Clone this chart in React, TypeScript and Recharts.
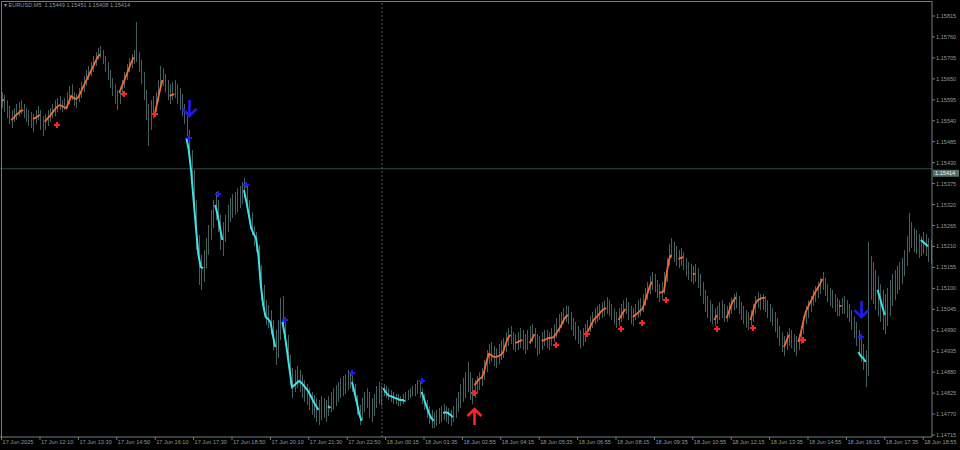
import React from 'react';
import { ComposedChart, Bar, Line, XAxis, YAxis, ReferenceLine } from 'recharts';

// ---- values ----
const symbolTitle = 'EURUSD,M5  1.15449 1.15451 1.15408 1.15414';
const lastPrice = 1.15414;

const highs = [
  1.15615,1.15608,1.15594,1.15579,1.15568,1.15573,1.15584,1.15589,1.15594,1.15584,
  1.15573,1.15568,1.15563,1.15558,1.15568,1.15579,1.15568,1.15552,1.15558,1.15568,
  1.15573,1.15584,1.15594,1.15600,1.15605,1.15594,1.15600,1.15615,1.15631,1.15636,
  1.15615,1.15610,1.15626,1.15642,1.15657,1.15673,1.15684,1.15694,1.15710,1.15720,
  1.15731,1.15736,1.15726,1.15710,1.15694,1.15673,1.15652,1.15636,1.15621,1.15626,
  1.15647,1.15668,1.15689,1.15705,1.15715,1.15726,1.15799,1.15720,1.15700,1.15668,
  1.15621,1.15584,1.15594,1.15605,1.15615,1.15647,1.15684,1.15678,1.15663,1.15647,
  1.15636,1.15642,1.15647,1.15636,1.15626,1.15610,1.15584,1.15563,1.15516,1.15463,
  1.15411,1.15332,1.15240,1.15188,1.15201,1.15232,1.15266,1.15306,1.15332,1.15353,
  1.15332,1.15293,1.15274,1.15293,1.15319,1.15337,1.15348,1.15353,1.15363,1.15369,
  1.15379,1.15390,1.15369,1.15332,1.15300,1.15264,1.15248,1.15214,1.15161,1.15109,
  1.15069,1.15056,1.15043,1.15017,1.14991,1.15017,1.15075,1.15080,1.15022,1.14978,
  1.14925,1.14891,1.14886,1.14896,1.14886,1.14873,1.14859,1.14849,1.14838,1.14828,
  1.14820,1.14812,1.14807,1.14817,1.14812,1.14807,1.14817,1.14828,1.14838,1.14846,
  1.14854,1.14865,1.14870,1.14875,1.14886,1.14880,1.14875,1.14849,1.14820,1.14794,
  1.14812,1.14828,1.14838,1.14828,1.14812,1.14823,1.14844,1.14854,1.14844,1.14849,
  1.14844,1.14838,1.14833,1.14828,1.14823,1.14823,1.14817,1.14823,1.14828,1.14833,
  1.14838,1.14844,1.14849,1.14859,1.14854,1.14838,1.14823,1.14807,1.14791,1.14781,
  1.14775,1.14781,1.14786,1.14791,1.14796,1.14791,1.14786,1.14781,1.14791,1.14812,
  1.14828,1.14849,1.14865,1.14880,1.14907,1.14880,1.14865,1.14859,1.14870,1.14880,
  1.14891,1.14912,1.14938,1.14954,1.14959,1.14949,1.14943,1.14954,1.14964,1.14970,
  1.14985,1.14996,1.15001,1.14985,1.14980,1.14985,1.14996,1.14991,1.14980,1.14991,
  1.15001,1.15006,1.14996,1.14980,1.14975,1.14985,1.14991,1.14991,1.14985,1.14996,
  1.15006,1.15022,1.15033,1.15038,1.15048,1.15054,1.15054,1.15038,1.15022,1.15012,
  1.15001,1.14991,1.14996,1.15006,1.15017,1.15027,1.15038,1.15048,1.15054,1.15059,
  1.15064,1.15069,1.15077,1.15069,1.15059,1.15048,1.15038,1.15048,1.15059,1.15069,
  1.15075,1.15064,1.15054,1.15048,1.15059,1.15069,1.15075,1.15085,1.15101,1.15117,
  1.15132,1.15143,1.15138,1.15122,1.15111,1.15117,1.15143,1.15180,1.15216,1.15232,
  1.15222,1.15211,1.15201,1.15206,1.15195,1.15180,1.15169,1.15164,1.15159,1.15164,
  1.15153,1.15138,1.15117,1.15096,1.15080,1.15069,1.15059,1.15048,1.15054,1.15064,
  1.15069,1.15059,1.15054,1.15064,1.15075,1.15085,1.15090,1.15080,1.15064,1.15054,
  1.15043,1.15038,1.15043,1.15059,1.15080,1.15090,1.15085,1.15085,1.15080,1.15069,
  1.15059,1.15048,1.15038,1.15022,1.15001,1.14985,1.14975,1.14985,1.14996,1.14991,
  1.14980,1.14975,1.14980,1.15001,1.15027,1.15054,1.15069,1.15080,1.15096,1.15106,
  1.15117,1.15127,1.15143,1.15127,1.15111,1.15101,1.15096,1.15085,1.15075,1.15069,
  1.15075,1.15080,1.15069,1.15059,1.15043,1.15027,1.15012,1.14991,1.14970,1.14954,
  1.14938,1.15222,1.15185,1.15169,1.15148,1.15132,1.15111,1.15096,1.15085,1.15101,
  1.15122,1.15138,1.15148,1.15159,1.15169,1.15180,1.15201,1.15237,1.15298,1.15274,
  1.15258,1.15253,1.15243,1.15237,1.15248,1.15243,1.15232,1.15227,
];

const lows = [
  1.15573,1.15563,1.15547,1.15531,1.15521,1.15537,1.15542,1.15552,1.15558,1.15547,
  1.15537,1.15526,1.15521,1.15510,1.15531,1.15542,1.15516,1.15500,1.15516,1.15526,
  1.15537,1.15547,1.15552,1.15563,1.15568,1.15563,1.15568,1.15573,1.15584,1.15594,
  1.15579,1.15573,1.15589,1.15600,1.15615,1.15631,1.15647,1.15657,1.15668,1.15684,
  1.15700,1.15705,1.15689,1.15668,1.15647,1.15626,1.15605,1.15584,1.15568,1.15584,
  1.15605,1.15626,1.15647,1.15668,1.15678,1.15689,1.15694,1.15668,1.15636,1.15594,
  1.15542,1.15474,1.15516,1.15547,1.15563,1.15589,1.15621,1.15631,1.15615,1.15594,
  1.15584,1.15594,1.15600,1.15584,1.15568,1.15552,1.15531,1.15500,1.15437,1.15371,
  1.15306,1.15201,1.15109,1.15096,1.15117,1.15153,1.15188,1.15227,1.15258,1.15279,
  1.15248,1.15201,1.15185,1.15222,1.15248,1.15274,1.15285,1.15293,1.15300,1.15311,
  1.15321,1.15337,1.15306,1.15274,1.15240,1.15211,1.15195,1.15135,1.15069,1.15030,
  1.15004,1.14996,1.14978,1.14938,1.14899,1.14917,1.14964,1.14991,1.14951,1.14899,
  1.14846,1.14812,1.14828,1.14838,1.14828,1.14812,1.14802,1.14794,1.14781,1.14768,
  1.14760,1.14749,1.14741,1.14754,1.14760,1.14749,1.14765,1.14775,1.14781,1.14791,
  1.14802,1.14812,1.14817,1.14823,1.14833,1.14838,1.14828,1.14802,1.14768,1.14741,
  1.14754,1.14775,1.14786,1.14760,1.14749,1.14765,1.14786,1.14796,1.14791,1.14817,
  1.14812,1.14807,1.14802,1.14796,1.14796,1.14791,1.14791,1.14796,1.14802,1.14807,
  1.14812,1.14817,1.14817,1.14823,1.14812,1.14796,1.14781,1.14760,1.14744,1.14733,
  1.14733,1.14739,1.14744,1.14749,1.14754,1.14749,1.14744,1.14739,1.14749,1.14760,
  1.14775,1.14786,1.14802,1.14812,1.14828,1.14807,1.14796,1.14812,1.14823,1.14833,
  1.14844,1.14859,1.14880,1.14901,1.14907,1.14896,1.14891,1.14901,1.14912,1.14917,
  1.14933,1.14949,1.14954,1.14938,1.14933,1.14938,1.14943,1.14938,1.14928,1.14938,
  1.14954,1.14959,1.14943,1.14922,1.14928,1.14938,1.14949,1.14943,1.14938,1.14949,
  1.14959,1.14970,1.14985,1.14996,1.15006,1.15012,1.15006,1.14991,1.14975,1.14964,
  1.14954,1.14943,1.14949,1.14959,1.14975,1.14985,1.14996,1.15006,1.15012,1.15017,
  1.15022,1.15027,1.15033,1.15027,1.15017,1.15006,1.14996,1.15001,1.15012,1.15022,
  1.15033,1.15017,1.15006,1.15001,1.15017,1.15022,1.15027,1.15038,1.15054,1.15069,
  1.15085,1.15096,1.15090,1.15075,1.15064,1.15069,1.15085,1.15117,1.15159,1.15180,
  1.15169,1.15159,1.15153,1.15159,1.15148,1.15132,1.15122,1.15117,1.15111,1.15117,
  1.15101,1.15080,1.15059,1.15038,1.15022,1.15012,1.15006,1.15001,1.15006,1.15017,
  1.15022,1.15012,1.15012,1.15022,1.15033,1.15043,1.15048,1.15033,1.15017,1.15006,
  1.14996,1.14991,1.15001,1.15012,1.15033,1.15048,1.15043,1.15043,1.15038,1.15022,
  1.15012,1.15001,1.14985,1.14970,1.14949,1.14933,1.14922,1.14938,1.14949,1.14943,
  1.14933,1.14922,1.14938,1.14954,1.14980,1.15006,1.15022,1.15038,1.15054,1.15064,
  1.15075,1.15085,1.15096,1.15080,1.15064,1.15054,1.15048,1.15038,1.15027,1.15027,
  1.15033,1.15033,1.15022,1.15012,1.14991,1.14970,1.14949,1.14922,1.14907,1.14886,
  1.14841,1.14870,1.15069,1.15059,1.15043,1.15027,1.15012,1.14991,1.14980,1.15001,
  1.15027,1.15054,1.15069,1.15085,1.15096,1.15111,1.15132,1.15159,1.15195,1.15206,
  1.15195,1.15190,1.15180,1.15185,1.15190,1.15185,1.15169,1.15164,
];

// orange (rising) indicator segments: [first bar index, values]
const upSegments: [number, number[]][] = [
  [0, [1.15594, 1.15594]],
  [4, [1.15542, 1.15547, 1.15555, 1.15560, 1.15566, 1.15568]],
  [13, [1.15545, 1.15547, 1.15552, 1.15555]],
  [18, [1.15537, 1.15545, 1.15552, 1.15560, 1.15568, 1.15576, 1.15581, 1.15579, 1.15576, 1.15573, 1.15589, 1.15605,
        1.15600, 1.15597, 1.15602, 1.15615, 1.15629, 1.15642, 1.15655, 1.15668, 1.15681, 1.15694, 1.15707, 1.15715]],
  [49, [1.15613, 1.15629, 1.15644, 1.15660, 1.15676, 1.15692, 1.15707]],
  [64, [1.15563, 1.15592, 1.15621, 1.15647]],
  [70, [1.15605, 1.15608, 1.15610]],
  [197, [1.14846, 1.14854, 1.14862, 1.14865, 1.14880, 1.14907, 1.14928, 1.14925, 1.14920, 1.14920, 1.14922, 1.14925,
         1.14933, 1.14954, 1.14970, 1.14978]],
  [214, [1.14957, 1.14959, 1.14962, 1.14964]],
  [220, [1.14957, 1.14967, 1.14980]],
  [225, [1.14962, 1.14964, 1.14967, 1.14970, 1.14970, 1.14972, 1.14980, 1.14991, 1.15001, 1.15014, 1.15025, 1.15030]],
  [244, [1.14985, 1.14996, 1.15009, 1.15020, 1.15025, 1.15033, 1.15041, 1.15046, 1.15048]],
  [257, [1.15017, 1.15027, 1.15038, 1.15046]],
  [263, [1.15025, 1.15030, 1.15035, 1.15041, 1.15046, 1.15064, 1.15085, 1.15104, 1.15117]],
  [274, [1.15088, 1.15090, 1.15093, 1.15135, 1.15174, 1.15188]],
  [282, [1.15177, 1.15180, 1.15182]],
  [288, [1.15138, 1.15138]],
  [297, [1.15017, 1.15030]],
  [302, [1.15022, 1.15038, 1.15056, 1.15069, 1.15077]],
  [312, [1.15017, 1.15038, 1.15059, 1.15069, 1.15072, 1.15075, 1.15075]],
  [326, [1.14946, 1.14962, 1.14978]],
  [332, [1.14959, 1.14983, 1.15012, 1.15038, 1.15051, 1.15064, 1.15077, 1.15090, 1.15101, 1.15111, 1.15125]],
  [349, [1.15054, 1.15054]],
];

// cyan (falling) indicator segments
const downSegments: [number, number[]][] = [
  [77, [1.15495, 1.15463, 1.15406, 1.15332, 1.15258, 1.15188, 1.15156, 1.15153]],
  [89, [1.15319, 1.15293, 1.15258, 1.15227]],
  [101, [1.15358, 1.15327, 1.15293, 1.15258, 1.15243, 1.15232, 1.15188, 1.15109, 1.15056, 1.15025, 1.15020, 1.15012,
         1.14978, 1.14946]],
  [117, [1.15012, 1.14978, 1.14933, 1.14886, 1.14841, 1.14846, 1.14852, 1.14857, 1.14852, 1.14844, 1.14836, 1.14828,
         1.14815, 1.14802, 1.14791, 1.14781]],
  [136, [1.14791, 1.14786]],
  [146, [1.14854, 1.14828, 1.14802, 1.14770, 1.14752]],
  [159, [1.14838, 1.14828, 1.14820, 1.14817, 1.14815, 1.14812, 1.14810, 1.14807, 1.14807, 1.14804]],
  [175, [1.14828, 1.14810, 1.14791, 1.14773, 1.14760, 1.14752]],
  [184, [1.14773, 1.14775, 1.14773, 1.14768, 1.14762]],
  [357, [1.14933, 1.14922, 1.14917, 1.14907]],
  [365, [1.15096, 1.15075, 1.15051, 1.15030]],
  [383, [1.15227, 1.15222, 1.15216, 1.15211]],
];

// [bar index, price]
const buyMarks: [number, number][] = [
  [23, 1.15529], [51, 1.15610], [64, 1.15558], [197, 1.14825], [231, 1.14951], [244, 1.14980],
  [258, 1.14993], [267, 1.15009], [277, 1.15069], [298, 1.14993], [313, 1.14996], [334, 1.14964],
];
const sellMarks: [number, number][] = [
  [78, 1.15495], [90, 1.15348], [102, 1.15371], [118, 1.15017], [146, 1.14878], [175, 1.14857], [358, 1.14972],
];
const sellArrows: [number, number][] = [[78, 1.15550], [358, 1.15022]];
const buyArrows: [number, number][] = [[197, 1.14786]];

const priceTicks = [
  1.15815, 1.1576, 1.15705, 1.1565, 1.15595, 1.1554, 1.15485, 1.1543, 1.15375, 1.1532, 1.15265,
  1.1521, 1.15155, 1.151, 1.15045, 1.1499, 1.14935, 1.1488, 1.14825, 1.1477, 1.14715,
];
const timeTicks = [0, 16, 32, 48, 64, 80, 96, 112, 128, 144, 160, 176, 192, 208, 224, 240, 256, 272, 288, 304, 320, 336, 352, 368, 384];
const timeLabels = [
  '17 Jun 2025', '17 Jun 12:10', '17 Jun 13:30', '17 Jun 14:50', '17 Jun 16:10', '17 Jun 17:30', '17 Jun 18:50',
  '17 Jun 20:10', '17 Jun 21:30', '17 Jun 22:50', '18 Jun 00:15', '18 Jun 01:35', '18 Jun 02:55', '18 Jun 04:15',
  '18 Jun 05:35', '18 Jun 06:55', '18 Jun 08:15', '18 Jun 09:35', '18 Jun 10:55', '18 Jun 12:15', '18 Jun 13:35',
  '18 Jun 14:55', '18 Jun 16:15', '18 Jun 17:35', '18 Jun 18:55',
];
const daySeparator = 158.5;

// ---- build the table ----
type Row = { i: number; hl: [number, number]; up: number | null; dn: number | null; bm: number | null; sm: number | null; sa: number | null; ba: number | null };
const data: Row[] = highs.map((h, i) => ({ i, hl: [lows[i], h], up: null, dn: null, bm: null, sm: null, sa: null, ba: null }));
upSegments.forEach(([s, vals]) => vals.forEach((v, k) => { if (data[s + k]) data[s + k].up = v; }));
downSegments.forEach(([s, vals]) => vals.forEach((v, k) => { if (data[s + k]) data[s + k].dn = v; }));
buyMarks.forEach(([i, v]) => { data[i].bm = v; });
sellMarks.forEach(([i, v]) => { data[i].sm = v; });
sellArrows.forEach(([i, v]) => { data[i].sa = v; });
buyArrows.forEach(([i, v]) => { data[i].ba = v; });

const C = {
  bg: '#000000', bar: '#46605f', up: '#ee6d36', dn: '#3fe2e6', red: '#ff2424', blue: '#1c1cf0',
  text: '#8c9a9a', axis: '#6f7f7f', hline: '#2f4a46', vline: '#4d5d66',
};
const FONT = '"Liberation Sans", Arial, sans-serif';
const FS = 5.6;

const BarShape = (p: any) => {
  if (p.x == null || p.y == null) return <g />;
  const cx = Math.round(p.x + p.width / 2);
  const top = Math.min(p.y, p.y + p.height);
  const h = Math.max(1, Math.abs(p.height));
  return <rect x={cx} y={top} width={1} height={h} fill={C.bar} />;
};

const empty = (p: any) => p.value == null || p.cx == null || p.cy == null || Number.isNaN(p.cy);

const plusMark = (color: string) => (p: any) => {
  if (empty(p)) return <g key={p.index} />;
  const { cx, cy } = p;
  const x = Math.round(cx), y = Math.round(cy);
  return (
    <path key={p.index} d={`M${x - 1},${y - 3}h2v2h2v2h-2v2h-2v-2h-2v-2h2z`} fill={color} />
  );
};

const downArrow = (p: any) => {
  if (empty(p)) return <g key={p.index} />;
  const x = Math.round(p.cx) + 0.5, y = p.cy;
  return (
    <path key={p.index} d={`M${x},${y - 17}V${y - 1}M${x - 7},${y - 8}L${x},${y - 1}L${x + 7},${y - 8}`}
      stroke={C.blue} strokeWidth={2.6} fill="none" />
  );
};

const upArrow = (p: any) => {
  if (empty(p)) return <g key={p.index} />;
  const x = Math.round(p.cx) + 0.5, y = p.cy;
  return (
    <path key={p.index} d={`M${x},${y + 17}V${y + 1}M${x - 7},${y + 8}L${x},${y + 1}L${x + 7},${y + 8}`}
      stroke={C.red} strokeWidth={2.6} fill="none" />
  );
};

const YTick = (p: any) => (
  <text x={p.x} y={p.y} dy={2} fontSize={FS} fill={C.text} fontFamily={FONT} textAnchor="start">
    {Number(p.payload.value).toFixed(5)}
  </text>
);

const XTick = (p: any) => {
  const idx = timeTicks.indexOf(p.payload.value);
  return (
    <text x={p.x + 1} y={p.y} dy={4} fontSize={FS} fill={C.text} fontFamily={FONT} textAnchor="start">
      {idx >= 0 ? timeLabels[idx] : ''}
    </text>
  );
};

const PriceTag = (p: any) => {
  const vb = p.viewBox || {};
  const x = (vb.x ?? 0) + (vb.width ?? 0);
  const y = vb.y ?? 0;
  return (
    <g>
      <rect x={x + 1} y={y + 1} width={26} height={7} fill="#55706d" />
      <text x={x + 3} y={y + 6.6} fontSize={FS} fill="#e6f2f2" fontFamily={FONT}>{lastPrice.toFixed(5)}</text>
    </g>
  );
};

export default function App() {
  return (
    <div style={{ position: 'fixed', left: 0, top: 0, width: 960, height: 450, background: C.bg, overflow: 'hidden' }}>
      <ComposedChart width={960} height={450} data={data} margin={{ top: 1, right: 0, left: 0, bottom: 0 }}>
        <XAxis dataKey="i" type="number" domain={[-0.6667, 387.6667]} allowDataOverflow ticks={timeTicks}
          interval={0} height={13} tick={<XTick />} tickSize={3} tickMargin={0}
          axisLine={{ stroke: C.axis }} tickLine={{ stroke: C.axis }} />
        <YAxis orientation="right" type="number" domain={[1.1470988, 1.1585438]} allowDataOverflow width={28}
          ticks={priceTicks} interval={0} tick={<YTick />} tickSize={3} tickMargin={1}
          axisLine={{ stroke: C.axis }} tickLine={{ stroke: C.axis }} />
        <ReferenceLine y={lastPrice} stroke={C.hline} strokeWidth={1} label={<PriceTag />} />
        <ReferenceLine x={daySeparator} stroke={C.vline} strokeDasharray="2 2" />
        <Bar dataKey="hl" barSize={1} shape={<BarShape />} isAnimationActive={false} />
        <Line dataKey="up" stroke={C.up} strokeWidth={1.8} dot={false} activeDot={false} connectNulls={false} isAnimationActive={false} />
        <Line dataKey="dn" stroke={C.dn} strokeWidth={2} dot={false} activeDot={false} connectNulls={false} isAnimationActive={false} />
        <Line dataKey="bm" stroke="none" dot={plusMark(C.red)} activeDot={false} isAnimationActive={false} />
        <Line dataKey="sm" stroke="none" dot={plusMark(C.blue)} activeDot={false} isAnimationActive={false} />
        <Line dataKey="sa" stroke="none" dot={downArrow} activeDot={false} isAnimationActive={false} />
        <Line dataKey="ba" stroke="none" dot={upArrow} activeDot={false} isAnimationActive={false} />
      </ComposedChart>
      <div style={{ position: 'absolute', left: 1, top: 1, width: 931, height: 436, border: `1px solid ${C.axis}`, borderRight: 'none', borderBottom: 'none', boxSizing: 'border-box', pointerEvents: 'none' }} />
      <div style={{ position: 'absolute', left: 4, top: 2, fontSize: FS, lineHeight: '7px', color: C.text, fontFamily: FONT, whiteSpace: 'pre' }}>
        {'\u25BE ' + symbolTitle}
      </div>
    </div>
  );
}
